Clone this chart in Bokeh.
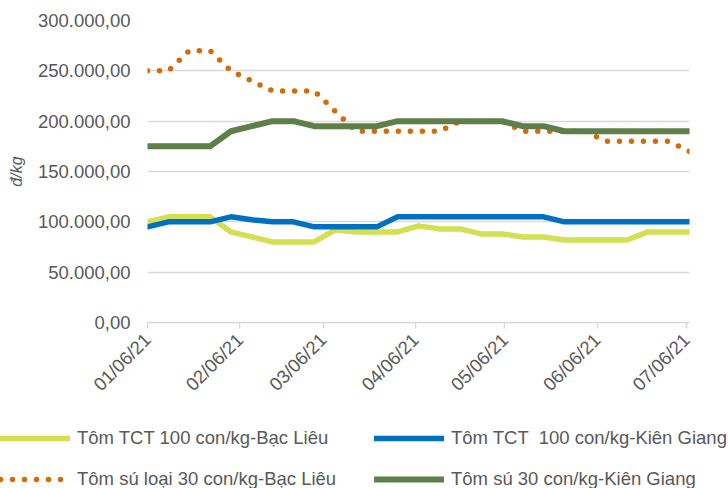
import pandas as pd
from math import pi
from bokeh.plotting import figure
from bokeh.layouts import column, row
from bokeh.models import (FixedTicker, Legend, LegendItem, DatetimeTickFormatter,
                          Range1d, ColumnDataSource)
from bokeh.embed import file_html
from bokeh.resources import INLINE

# ---------------- data ----------------
dates = ["2021-01-06", "2021-01-13", "2021-01-20", "2021-01-27", "2021-02-03",
         "2021-02-10", "2021-02-17", "2021-02-24", "2021-03-03", "2021-03-10",
         "2021-03-17", "2021-03-24", "2021-03-31", "2021-04-07", "2021-04-14",
         "2021-04-21", "2021-04-28", "2021-05-05", "2021-05-12", "2021-05-19",
         "2021-05-26", "2021-06-02", "2021-06-09", "2021-06-16", "2021-06-23",
         "2021-06-30", "2021-07-07"]

tct100_bac_lieu = [100000, 105000, 105000, 105000, 90000, 85000, 80000, 80000, 80000,
                   92000, 90000, 90000, 90000, 96000, 93000, 93000, 88000, 88000,
                   85000, 85000, 82000, 82000, 82000, 82000, 90000, 90000, 90000]

tct100_kien_giang = [95000, 100000, 100000, 100000, 105000, 102000, 100000, 100000, 95000,
                     95000, 95000, 95000, 105000, 105000, 105000, 105000, 105000, 105000,
                     105000, 105000, 100000, 100000, 100000, 100000, 100000, 100000, 100000]

su30_bac_lieu = [250000, 250000, 270000, 270000, 250000, 240000, 230000, 230000, 230000,
                 210000, 190000, 190000, 190000, 190000, 190000, 200000, 200000, 200000,
                 190000, 190000, 190000, 190000, 180000, 180000, 180000, 180000, 170000]

su30_kien_giang = [175000, 175000, 175000, 175000, 190000, 195000, 200000, 200000, 195000,
                   195000, 195000, 195000, 200000, 200000, 200000, 200000, 200000, 200000,
                   195000, 195000, 190000, 190000, 190000, 190000, 190000, 190000, 190000]

series_names = ["Tôm TCT 100 con/kg-Bạc Liêu",
                "Tôm TCT  100 con/kg-Kiên Giang",
                "Tôm sú loại 30 con/kg-Bạc Liêu",
                "Tôm sú 30 con/kg-Kiên Giang"]

x_tick_dates = ["2021-01-06", "2021-02-06", "2021-03-06", "2021-04-06",
                "2021-05-06", "2021-06-06", "2021-07-06"]

y_ticks = [0, 50000, 100000, 150000, 200000, 250000, 300000]
y_tick_labels = ["0,00", "50.000,00", "100.000,00", "150.000,00",
                 "200.000,00", "250.000,00", "300.000,00"]

y_title = "đ/kg"

# ---------------- styles ----------------
FONT = "Liberation Sans"
TXT = "#595959"
GRID = "#D9D9D9"
FS = "18.5px"
styles = [dict(line_color="#D4DF52", line_width=5.5, line_join="round", line_cap="round"),
          dict(line_color="#0070C0", line_width=5.5, line_join="round", line_cap="round"),
          dict(line_color="#D46B08", line_width=5.5, line_dash="0 12",
               line_join="round", line_cap="round"),
          dict(line_color="#5E7F49", line_width=6, line_join="round", line_cap="round")]
cols = ["a", "b", "c", "d"]

x = pd.to_datetime(dates)
src = ColumnDataSource(dict(x=x, a=tct100_bac_lieu, b=tct100_kien_giang,
                            c=su30_bac_lieu, d=su30_kien_giang))

# ---------------- main chart ----------------
p = figure(width=728, height=410, x_axis_type="datetime",
           output_backend="svg", toolbar_location=None,
           x_range=Range1d(start=x[0], end=x[-1]),
           y_range=Range1d(start=y_ticks[0], end=y_ticks[-1]),
           min_border_left=147, min_border_right=39,
           min_border_top=20, min_border_bottom=88)
p.outline_line_color = None
p.background_fill_color = "white"
p.border_fill_color = "white"

for c, st in zip(cols, styles):
    p.line("x", c, source=src, **st)

# x axis
xt = [int(pd.Timestamp(d).value // 10**6) for d in x_tick_dates]
p.xaxis.ticker = FixedTicker(ticks=xt)
fmt = "%m/%d/%y"
p.xaxis.formatter = DatetimeTickFormatter(
    milliseconds=fmt, seconds=fmt, minsec=fmt, minutes=fmt, hourmin=fmt,
    hours=fmt, days=fmt, months=fmt, years=fmt)
p.xaxis.major_label_orientation = pi / 4
p.xaxis.axis_line_color = GRID
p.xaxis.axis_line_width = 1.5
p.xaxis.major_tick_line_color = GRID
p.xaxis.major_tick_line_width = 1.5
p.xaxis.major_tick_out = 6
p.xaxis.major_tick_in = 0
p.xaxis.minor_tick_line_color = None
p.xaxis.major_label_text_font = FONT
p.xaxis.major_label_text_font_size = FS
p.xaxis.major_label_text_color = TXT
p.xaxis.major_label_standoff = 8
p.xgrid.grid_line_color = None

# y axis
p.yaxis.ticker = FixedTicker(ticks=y_ticks)
p.yaxis.major_label_overrides = {int(t): l for t, l in zip(y_ticks, y_tick_labels)}
p.yaxis.axis_line_color = None
p.yaxis.major_tick_line_color = None
p.yaxis.minor_tick_line_color = None
p.yaxis.major_tick_out = 0
p.yaxis.major_tick_in = 0
p.yaxis.major_label_standoff = 17
p.yaxis.major_label_text_font = FONT
p.yaxis.major_label_text_font_size = FS
p.yaxis.major_label_text_color = TXT
p.yaxis.axis_label = y_title
p.yaxis.axis_label_text_font = FONT
p.yaxis.axis_label_text_font_size = "16px"
p.yaxis.axis_label_text_font_style = "italic"
p.yaxis.axis_label_text_color = TXT
p.yaxis.axis_label_standoff = 10
p.ygrid.grid_line_color = GRID
p.ygrid.grid_line_width = 1.5

# ---------------- legend panel ----------------
lg = figure(width=728, height=78, output_backend="svg", toolbar_location=None,
            x_axis_type="datetime", x_axis_location=None, y_axis_location=None,
            x_range=Range1d(start=x[0], end=x[-1]), y_range=Range1d(0, 1),
            min_border=0)
lg.outline_line_color = None
lg.grid.grid_line_color = None
lg.background_fill_color = "white"
lg.border_fill_color = "white"
rs = [lg.line("x", c, source=src, **st) for c, st in zip(cols, styles)]

legend = Legend(items=[LegendItem(label=n, renderers=[r]) for n, r in zip(series_names, rs)],
                location=(0, -11), orientation="horizontal", ncols=2,
                glyph_width=70, glyph_height=20, label_height=41,
                label_standoff=7, label_width=297, spacing=0, padding=0, margin=0,
                label_text_font=FONT, label_text_font_size=FS,
                label_text_color=TXT, border_line_color=None,
                background_fill_alpha=0)
lg.add_layout(legend, "center")

layout = column(p, row(lg), spacing=0)
open("out.html", "w").write(file_html(layout, INLINE))
